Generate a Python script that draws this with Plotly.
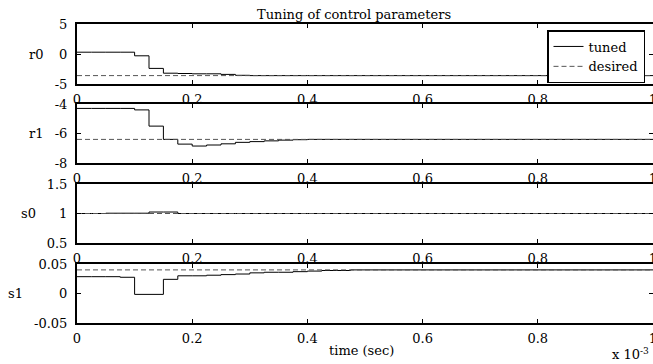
import plotly.graph_objects as go

# ---- data (time in units of 1e-3 s) ----
t = [0, 0.025, 0.05, 0.075, 0.1, 0.125, 0.15, 0.175, 0.2, 0.225, 0.25, 0.275,
     0.3, 0.325, 0.35, 0.375, 0.4, 0.425, 0.45, 0.475, 0.5, 1.0]
r0_tuned = [0.3, 0.3, 0.3, 0.3, -0.3, -2.4, -3.2, -3.25, -3.3, -3.3, -3.4, -3.55,
            -3.6, -3.6, -3.6, -3.6, -3.6, -3.6, -3.6, -3.6, -3.6, -3.6]
r1_tuned = [-4.3, -4.3, -4.3, -4.3, -4.4, -5.5, -6.4, -6.72, -6.85, -6.78, -6.7, -6.6,
            -6.55, -6.5, -6.45, -6.42, -6.4, -6.4, -6.4, -6.4, -6.4, -6.4]
s0_tuned = [1.0, 1.0, 1.005, 1.005, 1.005, 1.025, 1.025, 1.0, 1.0, 1.0, 1.0, 1.0,
            1.0, 1.0, 1.0, 1.0, 1.0, 1.0, 1.0, 1.0, 1.0, 1.0]
s1_tuned = [0.0285, 0.0285, 0.0285, 0.0275, -0.0015, -0.0015, 0.024, 0.030, 0.030, 0.031,
            0.032, 0.033, 0.035, 0.036, 0.036, 0.037, 0.038, 0.039, 0.039, 0.040, 0.040, 0.040]
desired = {"r0": -3.6, "r1": -6.4, "s0": 1.0, "s1": 0.04}
t_range = [0, 1]

names = ["r0", "r1", "s0", "s1"]
tuned = [r0_tuned, r1_tuned, s0_tuned, s1_tuned]
y_ranges = [[-5, 5], [-8, -4], [0.5, 1.5], [-0.05, 0.05]]
y_ticks = [[-5, 0, 5], [-8, -6, -4], [0.5, 1, 1.5], [-0.05, 0, 0.05]]
y_ticktext = [["-5", "0", "5"], ["-8", "-6", "-4"], ["0.5", "1", "1.5"], ["-0.05", "0", "0.05"]]
x_ticks = [0, 0.2, 0.4, 0.6, 0.8, 1]
x_ticktext = ["0", "0.2", "0.4", "0.6", "0.8", "1"]

# ---- layout geometry (pixels) ----
W, H = 653, 364
L, R, T, B = 77, 0, 24, 41
plot_h = H - T - B
panels_px = [(24, 84), (104, 163), (184, 243), (264, 323)]
label_x_px = [36, 36, 28, 15]
FONT = "DejaVu Serif"
FS = 13

def yfrac(py):
    return (H - B - py) / plot_h

def xfrac(px):
    return (px - L) / (W - L - R)

fig = go.Figure()
for i, (nm, yv) in enumerate(zip(names, tuned)):
    ax = "" if i == 0 else str(i + 1)
    fig.add_trace(go.Scatter(x=t, y=yv, mode="lines", line=dict(color="black", width=1, shape="hv"),
                             name="tuned", showlegend=(i == 0), xaxis="x" + ax, yaxis="y" + ax))
    fig.add_trace(go.Scatter(x=t_range, y=[desired[nm]] * 2, mode="lines",
                             line=dict(color="#555555", width=1, dash="5px,3px"),
                             name="desired", showlegend=(i == 0), xaxis="x" + ax, yaxis="y" + ax))

layout = dict(
    width=W, height=H, margin=dict(l=L, r=R, t=T, b=B, pad=0, autoexpand=False),
    paper_bgcolor="white", plot_bgcolor="white",
    font=dict(family=FONT, size=FS, color="black"),
    showlegend=True,
    legend=dict(x=xfrac(645), y=yfrac(30), xanchor="right", yanchor="top",
                bgcolor="white", bordercolor="black", borderwidth=1.5,
                font=dict(family=FONT, size=FS), tracegroupgap=0, itemwidth=30),
    annotations=[],
)
axis_common = dict(showline=True, linecolor="black", linewidth=2, mirror="ticks",
                   ticks="inside", ticklen=4, tickwidth=1, tickcolor="black",
                   showgrid=False, zeroline=False, ticklabeloverflow="allow", automargin=False)
for i in range(4):
    ax = "" if i == 0 else str(i + 1)
    top, bot = panels_px[i]
    layout["xaxis" + ax] = dict(axis_common, domain=[0, 1], range=t_range, anchor="y" + ax,
                                tickmode="array", tickvals=x_ticks, ticktext=x_ticktext,
                                ticklabelstandoff=2)
    layout["yaxis" + ax] = dict(axis_common, domain=[yfrac(bot), yfrac(top)], range=y_ranges[i],
                                anchor="x" + ax, tickmode="array", tickvals=y_ticks[i],
                                ticktext=y_ticktext[i], ticklabelstandoff=5)
    layout["annotations"].append(dict(text=names[i], xref="paper", yref="paper",
                                      x=xfrac(label_x_px[i]), y=yfrac((top + bot) / 2),
                                      xanchor="center", yanchor="middle", showarrow=False,
                                      font=dict(family=FONT, size=FS)))

layout["annotations"].append(dict(text="time (sec)", xref="paper", yref="paper",
                                  x=xfrac(361), y=yfrac(350), xanchor="center", yanchor="middle",
                                  showarrow=False, font=dict(family=FONT, size=FS)))
layout["annotations"].append(dict(text="Tuning of control parameters", xref="paper", yref="paper",
                                  x=xfrac(354), y=yfrac(14), xanchor="center", yanchor="middle",
                                  showarrow=False, font=dict(family=FONT, size=FS)))
layout["annotations"].append(dict(text="x 10<sup>-3</sup>", xref="paper", yref="paper",
                                  x=xfrac(610), y=yfrac(364), xanchor="left", yanchor="bottom",
                                  showarrow=False, font=dict(family=FONT, size=FS)))

fig.update_layout(**layout)
fig.write_html("out.html")
